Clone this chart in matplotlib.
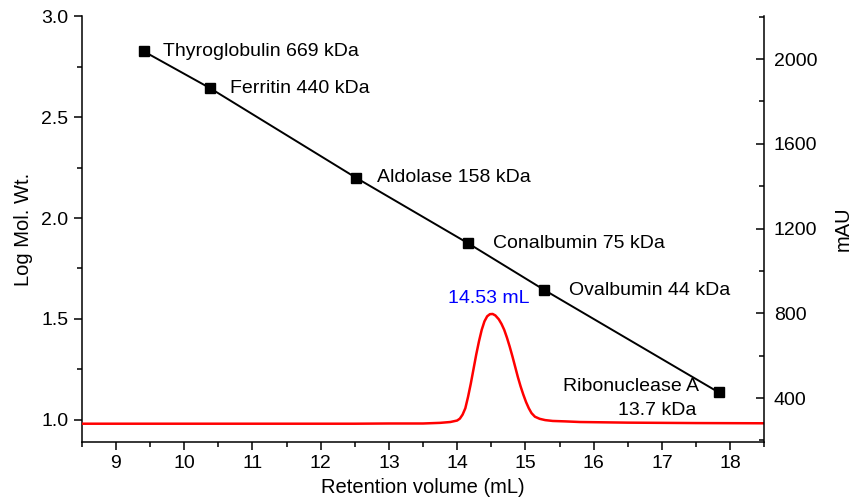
import matplotlib
matplotlib.use("Agg")
import matplotlib.pyplot as plt
from matplotlib.ticker import MultipleLocator

plt.rcParams["font.family"] = ["Liberation Sans", "DejaVu Sans"]

# calibration standards
std_names = ["Thyroglobulin 669 kDa", "Ferritin 440 kDa", "Aldolase 158 kDa",
             "Conalbumin 75 kDa", "Ovalbumin 44 kDa", "Ribonuclease A"]
std_vol = [9.41, 10.38, 12.52, 14.16, 15.28, 17.83]
std_logmw = [2.825, 2.643, 2.199, 1.875, 1.643, 1.137]

# chromatogram
trace_vol = [8.5, 9.5, 10.5, 11.5, 12.5, 13.0, 13.5, 13.75, 13.9, 14.0, 14.04, 14.08,
             14.12, 14.16, 14.2, 14.24, 14.28, 14.32, 14.36, 14.4, 14.44, 14.48,
             14.52, 14.56, 14.61, 14.65, 14.69, 14.73, 14.77, 14.81, 14.85, 14.89,
             14.93, 14.97, 15.01, 15.05, 15.09, 15.14, 15.21, 15.29, 15.4, 15.58,
             15.8, 16.5, 17.5, 18.5]
trace_mau = [279, 279, 279, 279, 279, 280, 280, 283, 287, 294, 303, 322,
             352, 406, 468, 537, 606, 668, 722, 762, 786, 796,
             797, 790, 772, 750, 722, 685, 643, 597, 548, 499,
             455, 416, 381, 352, 329, 312, 302, 296, 292, 290,
             287, 284, 282, 281]
peak_label = "14.53 mL"

fig = plt.figure(figsize=(8.52, 5.03), dpi=100)
ax = fig.add_axes([0.096, 0.121, 0.801, 0.847])
ax2 = ax.twinx()

ax.plot(std_vol, std_logmw, "-", color="black", lw=1.4, marker="s", ms=6.5, zorder=3)
offsets = [14, 14, 15, 18, 18]
for name, x, y, dx in zip(std_names[:5], std_vol[:5], std_logmw[:5], offsets):
    ax.annotate(name, (x, y), textcoords="offset points", xytext=(dx, 0),
                ha="left", va="center", fontsize=14)
ax.annotate(std_names[5], (std_vol[5], std_logmw[5]), textcoords="offset points",
            xytext=(-14, 4), ha="right", va="center", fontsize=14)
ax.annotate("13.7 kDa", (std_vol[5], std_logmw[5]), textcoords="offset points",
            xytext=(-16, -13), ha="right", va="center", fontsize=14)

ax2.plot(trace_vol, trace_mau, color="red", lw=1.8)
ax2.text(14.47, 830, peak_label, color="blue", fontsize=14, ha="center", va="bottom")

ax.set_xlim(8.5, 18.5)
ax.set_ylim(0.89, 3.0)
ax2.set_ylim(192, 2203)

ax.xaxis.set_major_locator(MultipleLocator(1))
ax.xaxis.set_minor_locator(MultipleLocator(0.5))
ax.yaxis.set_major_locator(MultipleLocator(0.5))
ax.yaxis.set_minor_locator(MultipleLocator(0.25))
ax2.yaxis.set_major_locator(MultipleLocator(400))
ax2.yaxis.set_minor_locator(MultipleLocator(200))

for a in (ax, ax2):
    a.spines["top"].set_visible(False)
    for s in a.spines.values():
        s.set_linewidth(1.1)
ax.tick_params(which="major", direction="out", length=6, width=1.1, labelsize=14)
ax.tick_params(which="minor", direction="out", length=3.5, width=1.1)
ax2.tick_params(which="major", direction="in", length=6, width=1.1, labelsize=14, pad=7)
ax2.tick_params(which="minor", direction="in", length=3.5, width=1.1)
ax.spines["right"].set_visible(False)
ax2.spines["left"].set_visible(False)
ax2.spines["bottom"].set_visible(False)

ax.set_xlabel("Retention volume (mL)", fontsize=14.5, labelpad=4)
ax.set_ylabel("Log Mol. Wt.", fontsize=14.5, labelpad=6)
ax2.set_ylabel("mAU", fontsize=14.5, labelpad=12)

fig.savefig("out.png", dpi=100)
